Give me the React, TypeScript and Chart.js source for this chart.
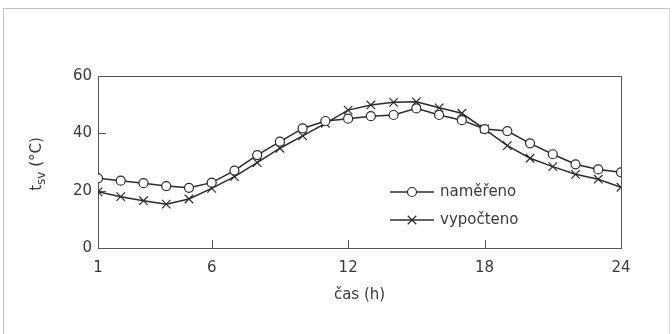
import React, { useEffect, useRef } from 'react';
import { Chart, registerables } from 'chart.js';

Chart.register(...registerables);

const hours = [1, 2, 3, 4, 5, 6, 7, 8, 9, 10, 11, 12, 13, 14, 15, 16, 17, 18, 19, 20, 21, 22, 23, 24];
const namereno = [24.3, 23.5, 22.6, 21.6, 21.0, 22.8, 27.0, 32.4, 37.1, 41.7, 44.3, 45.1, 46.0, 46.4, 48.7, 46.4, 44.6, 41.5, 40.8, 36.5, 32.7, 29.2, 27.4, 26.4];
const vypocteno = [19.6, 17.9, 16.5, 15.3, 17.1, 20.8, 24.9, 29.8, 34.8, 39.1, 43.5, 48.1, 49.9, 50.8, 51.0, 48.9, 47.0, 41.5, 35.7, 31.3, 28.4, 25.7, 24.0, 21.2];
const xTickValues = [1, 6, 12, 18, 24];
const yTickValues = [0, 20, 40, 60];
const seriesNames = ['naměřeno', 'vypočteno'];
const xTitle = 'čas (h)';
const yTitleMain = 't';
const yTitleSub = 'sv';
const yTitleUnit = ' (°C)';

const FONT = '"DejaVu Sans", sans-serif';
const INK = '#2b2b2b';
const TEXT = '#3a3a3a';

function drawMarker(ctx: CanvasRenderingContext2D, style: string, r: number, x: number, y: number, lw: number) {
  ctx.save();
  ctx.strokeStyle = INK;
  ctx.lineWidth = lw;
  ctx.beginPath();
  if (style === 'circle') {
    ctx.arc(x, y, r, 0, Math.PI * 2);
    ctx.fillStyle = '#fff';
    ctx.fill();
    ctx.stroke();
  } else {
    const d = r * Math.SQRT1_2;
    ctx.moveTo(x - d, y - d);
    ctx.lineTo(x + d, y + d);
    ctx.moveTo(x - d, y + d);
    ctx.lineTo(x + d, y - d);
    ctx.stroke();
  }
  ctx.restore();
}

const framePlugin = {
  id: 'frameAndTicks',
  beforeDatasetsDraw(chart: any) {
    const { ctx, chartArea: a, scales } = chart;
    ctx.save();
    ctx.strokeStyle = '#555';
    ctx.lineWidth = 1;
    ctx.strokeRect(Math.round(a.left) + 0.5, Math.round(a.top) + 0.5, Math.round(a.right - a.left), Math.round(a.bottom - a.top));
    ctx.beginPath();
    for (const v of xTickValues) {
      if (v === xTickValues[0] || v === xTickValues[xTickValues.length - 1]) continue;
      const x = Math.round(scales.x.getPixelForValue(v)) + 0.5;
      ctx.moveTo(x, a.bottom);
      ctx.lineTo(x, a.bottom - 8);
    }
    for (const v of yTickValues) {
      if (v === yTickValues[0] || v === yTickValues[yTickValues.length - 1]) continue;
      const y = Math.round(scales.y.getPixelForValue(v)) + 0.5;
      ctx.moveTo(a.left, y);
      ctx.lineTo(a.left + 8, y);
    }
    ctx.stroke();
    ctx.restore();
  },
  afterDraw(chart: any) {
    const { ctx, chartArea: a } = chart;
    ctx.save();
    const cy = (a.top + a.bottom) / 2;
    ctx.translate(37, cy + 2);
    ctx.rotate(-Math.PI / 2);
    ctx.fillStyle = TEXT;
    ctx.textBaseline = 'middle';
    ctx.textAlign = 'left';
    ctx.font = `15px ${FONT}`;
    const w1 = ctx.measureText(yTitleMain).width;
    ctx.font = `12px ${FONT}`;
    const w2 = ctx.measureText(yTitleSub).width;
    ctx.font = `15px ${FONT}`;
    const w3 = ctx.measureText(yTitleUnit).width;
    let x = -(w1 + w2 + w3) / 2;
    ctx.font = `15px ${FONT}`;
    ctx.fillText(yTitleMain, x, 0);
    x += w1;
    ctx.font = `12px ${FONT}`;
    ctx.fillText(yTitleSub, x, 5);
    x += w2;
    ctx.font = `15px ${FONT}`;
    ctx.fillText(yTitleUnit, x, 0);
    ctx.restore();

    ctx.save();
    const items = chart.data.datasets;
    const lx0 = a.left + 292;
    const lx1 = a.left + 336;
    const rows = [a.top + 116, a.top + 144];
    items.forEach((ds: any, i: number) => {
      const y = rows[i];
      ctx.strokeStyle = INK;
      ctx.lineWidth = 1.5;
      ctx.beginPath();
      ctx.moveTo(lx0, y);
      ctx.lineTo(lx1, y);
      ctx.stroke();
      drawMarker(ctx, ds.pointStyle, ds.pointRadius, (lx0 + lx1) / 2, y, ds.pointBorderWidth);
      ctx.fillStyle = TEXT;
      ctx.font = `15px ${FONT}`;
      ctx.textBaseline = 'middle';
      ctx.textAlign = 'left';
      ctx.fillText(ds.label, lx1 + 6, y);
    });
    ctx.restore();
  },
};

export default function App() {
  const ref = useRef<HTMLCanvasElement>(null);
  useEffect(() => {
    document.body.style.margin = '0';
    const chart = new Chart(ref.current as HTMLCanvasElement, {
      type: 'line',
      data: {
        datasets: [
          {
            label: seriesNames[0],
            data: hours.map((h, i) => ({ x: h, y: namereno[i] })),
            borderColor: INK,
            borderWidth: 1.5,
            pointStyle: 'circle',
            pointRadius: 4.5,
            pointBorderWidth: 1.2,
            pointBackgroundColor: '#fff',
            pointBorderColor: INK,
            tension: 0,
          },
          {
            label: seriesNames[1],
            data: hours.map((h, i) => ({ x: h, y: vypocteno[i] })),
            borderColor: INK,
            borderWidth: 1.5,
            pointStyle: 'crossRot',
            pointRadius: 6,
            pointBorderWidth: 1.2,
            pointBackgroundColor: '#fff',
            pointBorderColor: INK,
            tension: 0,
          },
        ],
      },
      options: {
        animation: false,
        responsive: false,
        devicePixelRatio: 1,
        layout: { padding: { top: 76, right: 51, bottom: 30, left: 0 } },
        plugins: { legend: { display: false }, tooltip: { enabled: false } },
        scales: {
          x: {
            type: 'linear',
            min: 1,
            max: 24,
            afterBuildTicks: (scale: any) => {
              scale.ticks = xTickValues.map((v) => ({ value: v }));
            },
            grid: { display: false, drawTicks: false },
            border: { display: false },
            ticks: {
              padding: 11,
              color: TEXT,
              font: { family: FONT, size: 15 },
              maxRotation: 0,
              autoSkip: false,
            },
            title: {
              display: true,
              text: xTitle,
              color: TEXT,
              font: { family: FONT, size: 15 },
              padding: { top: -2, bottom: 0 },
            },
          },
          y: {
            min: 0,
            max: 60,
            afterBuildTicks: (scale: any) => {
              scale.ticks = yTickValues.map((v) => ({ value: v }));
            },
            afterFit: (scale: any) => {
              scale.width = 98;
            },
            grid: { display: false, drawTicks: false },
            border: { display: false },
            ticks: {
              padding: 6,
              color: TEXT,
              font: { family: FONT, size: 15 },
            },
          },
        },
      },
      plugins: [framePlugin],
    } as any);
    return () => chart.destroy();
  }, []);
  return (
    <div style={{ position: 'relative', width: 672, height: 334, overflow: 'hidden', background: '#fff' }}>
      <div
        style={{
          position: 'absolute',
          left: 3,
          top: 8,
          width: 665,
          height: 400,
          borderTop: '1px solid #c4c4c4',
          borderLeft: '1px solid #c4c4c4',
          borderRight: '1px solid #d8d8d8',
        }}
      />
      <canvas ref={ref} width={672} height={334} style={{ position: 'absolute', left: 0, top: 0, width: 672, height: 334 }} />
    </div>
  );
}
